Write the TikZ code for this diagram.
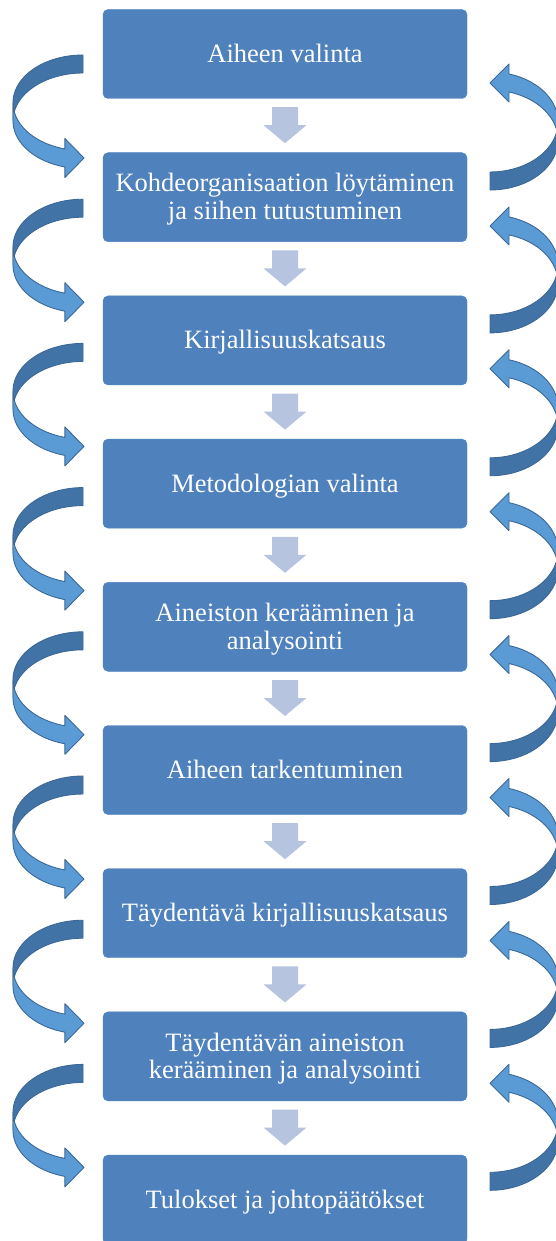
\documentclass[tikz,border=0pt]{standalone}
\usepackage{fontspec}
\setmainfont{Liberation Serif}
\usetikzlibrary{calc}
\definecolor{boxblue}{HTML}{4F81BD}
\definecolor{flowgray}{HTML}{B6C4E0}
\definecolor{ribbondark}{HTML}{4273A6}
\definecolor{ribbonlight}{HTML}{5B9BD5}
\definecolor{ribbonline}{HTML}{3B6896}
\tikzset{
  stepbox/.style={fill=boxblue, draw=boxblue, rounded corners=5pt,
    minimum width=364pt, minimum height=89pt, inner sep=0pt,
    text=white, font=\fontsize{26.5}{27.5}\selectfont},
  flowarrow/.style={fill=flowgray, draw=none},
  ribbonback/.style={fill=ribbondark, draw=ribbonline, line width=0.9pt, line join=round},
  ribbonfront/.style={fill=ribbonlight, draw=ribbonline, line width=0.9pt, line join=round}
}
% centred lines of a step, set a little below the middle of the box
\newcommand\steptext[1]{\raisebox{0pt}[\dimexpr\height+6pt\relax][\depth]{\begin{tabular}{@{}c@{}}#1\end{tabular}}}
\begin{document}
\begin{tikzpicture}[x=1pt, y=-1pt]
\useasboundingbox (0,0) rectangle (555,1241);

% process steps
\foreach \i/\txt in {1/{Aiheen valinta},
    2/{Kohdeorganisaation löytäminen\\ja siihen tutustuminen},
    3/{Kirjallisuuskatsaus},
    4/{Metodologian valinta},
    5/{Aineiston kerääminen ja\\analysointi},
    6/{Aiheen tarkentuminen},
    7/{Täydentävä kirjallisuuskatsaus},
    8/{Täydentävän aineiston\\kerääminen ja analysointi},
    9/{Tulokset ja johtopäätökset}} {
  \pgfmathsetmacro\yc{54+(\i-1)*143.2}
  \node[stepbox] (b\i) at (285,\yc) {\steptext{\txt}};
}

% straight arrows between consecutive steps
\foreach \i in {1,...,8} {
  \path ($(b\i.south)+(0,8.5)$) coordinate (s\i);
  \fill[flowarrow] ($(s\i)+(-13,0)$) -- ($(s\i)+(13,0)$) -- ($(s\i)+(13,18)$)
    -- ($(s\i)+(21.5,18)$) -- ($(s\i)+(0,36)$) -- ($(s\i)+(-21.5,18)$)
    -- ($(s\i)+(-13,18)$) -- cycle;
}

% curved ribbon arrows on the left (forward)
\foreach \i in {1,...,8} {
  \pgfmathsetmacro\ca{102.8+(\i-1)*144.2}
  \pgfmathsetmacro\cb{\ca+18}
  \filldraw[ribbonback]
    plot[domain=90:180, samples=30, variable=\t] ({83+70*cos(\t)},{\ca-47.8*sin(\t)})
    -- (13,\cb)
    -- plot[domain=180:90, samples=30, variable=\t] ({83+70*cos(\t)},{\cb-47.8*sin(\t)})
    -- cycle;
  \filldraw[ribbonfront]
    plot[domain=180:255, samples=30, variable=\t] ({83+70*cos(\t)},{\ca-47.8*sin(\t)})
    -- (64.9,\ca+35.7) -- (84,\ca+55.2) -- (64.9,\ca+74.7)
    -- plot[domain=255:180, samples=30, variable=\t] ({83+70*cos(\t)},{\cb-47.8*sin(\t)})
    -- cycle;
}

% curved ribbon arrows on the right (backward)
\foreach \i in {1,...,8} {
  \pgfmathsetmacro\ca{140+(\i-1)*142.9}
  \pgfmathsetmacro\cb{\ca-18}
  \filldraw[ribbonback]
    plot[domain=270:360, samples=30, variable=\t] ({490+68*cos(\t)},{\ca-50*sin(\t)})
    -- (558,\cb)
    -- plot[domain=360:270, samples=30, variable=\t] ({490+68*cos(\t)},{\cb-50*sin(\t)})
    -- cycle;
  \filldraw[ribbonfront]
    plot[domain=0:73.77, samples=30, variable=\t] ({490+68*cos(\t)},{\cb-50*sin(\t)})
    -- (509,\ca-76) -- (490,\ca-57) -- (509,\ca-38)
    -- plot[domain=73.77:0, samples=30, variable=\t] ({490+68*cos(\t)},{\ca-50*sin(\t)})
    -- cycle;
}
\end{tikzpicture}
\end{document}
